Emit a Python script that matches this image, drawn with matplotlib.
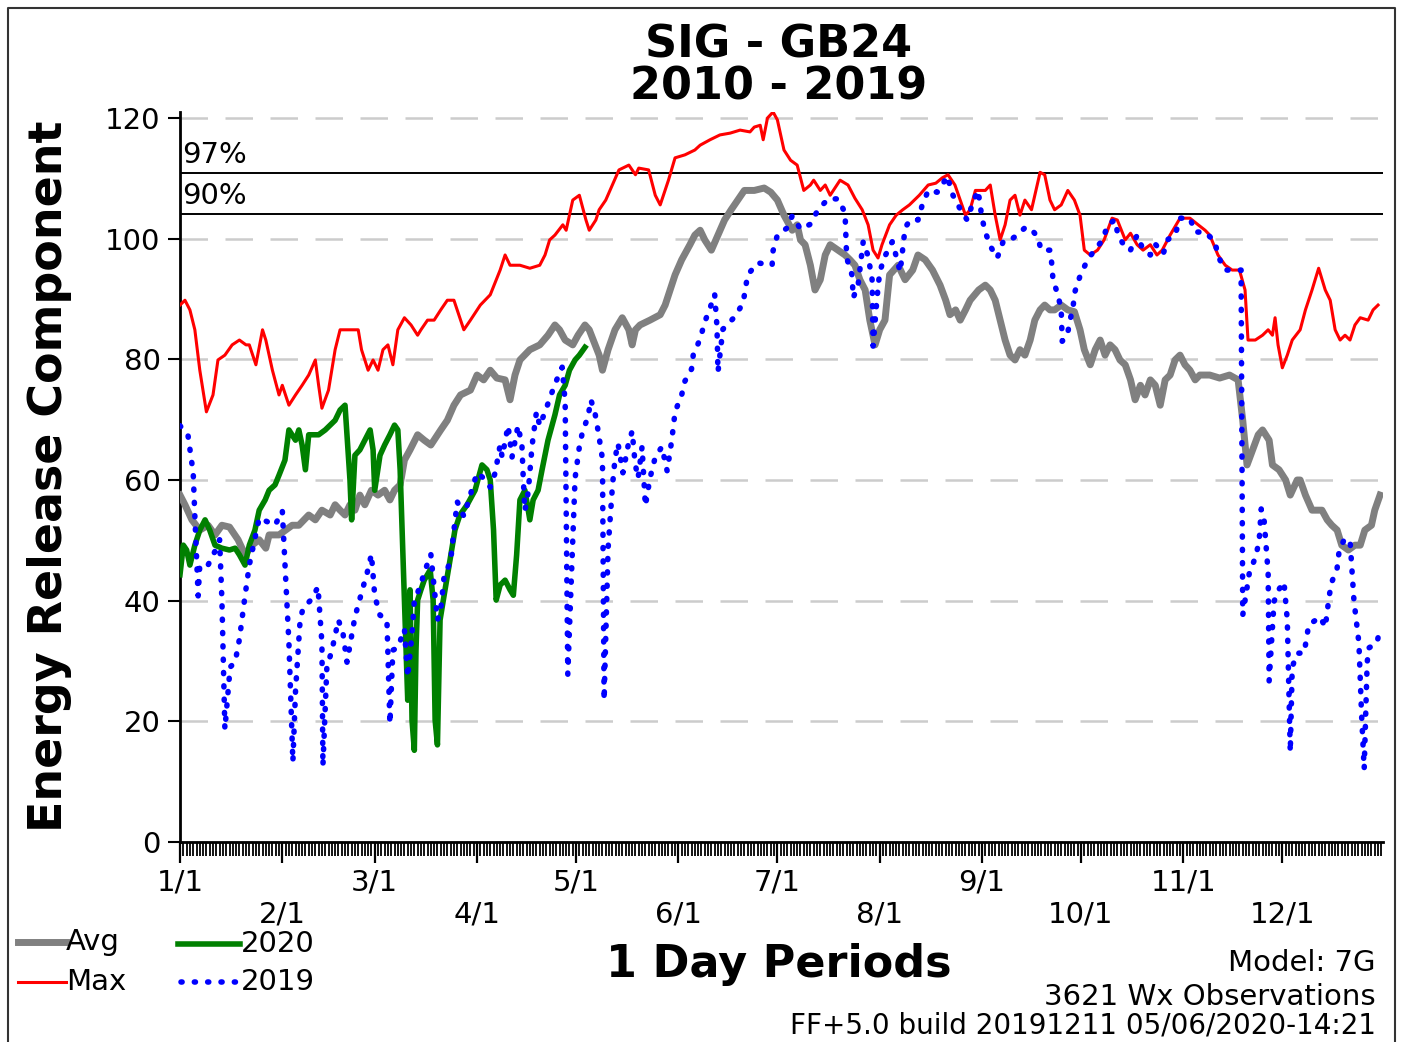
import numpy as np
import matplotlib
matplotlib.use('Agg')
import matplotlib.pyplot as plt

# ---- data (day of year, 0 = Jan 1; ERC values) ----
max_day = [0, 1.5, 3, 4.5, 6, 8, 10, 11.5, 13.6, 15.8,
           18, 20, 21, 23, 25, 26, 28, 30, 31, 33,
           35, 37, 39, 41, 42, 43, 45, 47, 48.5, 51.5,
           54, 55, 57, 58.5, 60, 61.5, 63, 64.5, 66, 68,
           70, 72, 73, 75, 77, 79, 81, 83, 85, 86,
           88, 91, 94, 97, 98.5, 100, 103, 106, 109, 110.6,
           112, 113.6, 116, 117, 119, 121, 123, 124, 126, 127,
           129, 131, 133, 136, 138, 139, 142, 144, 145.5, 148,
           150, 153, 156, 157.6, 160.6, 163.6, 166.7, 169.7, 172.7, 174,
           175.8, 176.7, 178, 179.7, 181, 183, 185, 187, 189, 191,
           192, 194, 195.5, 197, 200, 202.4, 204.5, 206.7, 208.5, 210,
           211.5, 212.7, 215, 217, 219, 221, 224, 226.7, 229, 231,
           232.7, 234.8, 236.4, 238, 239.4, 241, 244, 245.5, 247, 248.5,
           250, 251.5, 253, 254.5, 256, 258, 260.6, 262, 263.6, 265,
           267, 269, 271, 272.7, 274, 275.8, 278, 280, 282.4, 284,
           286.4, 288, 290, 291.8, 294, 296, 297.6, 300, 303, 306,
           308.5, 310.6, 312, 314.5, 316.7, 318.8, 321, 322.7, 323.6, 325.8,
           328, 329.7, 331, 331.8, 332.7, 334, 335.5, 337, 339.4, 341,
           343, 345, 347, 348.5, 350, 351.5, 353, 354.5, 356, 357.6,
           360, 361.5, 363]
max_erc = [89, 89.8, 88.2, 84.9, 78.2, 71.3, 74.1, 79.9, 80.7, 82.4,
           83.2, 82.4, 82.4, 79.1, 84.9, 83.2, 78.2, 74.1, 75.7, 72.4,
           74.1, 75.7, 77.4, 79.9, 75.7, 71.9, 74.9, 81.6, 84.9, 84.9,
           84.9, 81.6, 78.2, 79.9, 78.2, 81.6, 82.4, 79.1, 84.9, 86.9,
           85.7, 84, 84.9, 86.5, 86.5, 88.2, 89.8, 89.8, 86.5, 84.9,
           86.5, 89, 90.7, 94.8, 97.3, 95.6, 95.6, 95.1, 95.6, 97.3,
           99.8, 100.6, 102.3, 101.4, 106.4, 107.2, 103.1, 101.4, 103.1, 104.8,
           106.4, 108.9, 111.4, 112.2, 110.6, 111.7, 111.4, 107.2, 105.6, 109.7,
           113.4, 113.9, 114.7, 115.5, 116.4, 117.2, 117.5, 118, 117.7, 118.5,
           118.8, 116.4, 120, 121, 119.7, 114.7, 113, 112.2, 108, 108.9,
           109.7, 108, 108.9, 107.2, 109.7, 108.9, 106.7, 104.8, 102.3, 98.1,
           96.8, 99, 102.3, 103.9, 104.8, 105.6, 107.2, 108.9, 109.2, 110.1,
           110.6, 108.9, 106.4, 103.9, 104.8, 108, 108, 108.9, 103.9, 99.8,
           102.3, 106.4, 107.2, 103.9, 106.4, 104.8, 111, 110.6, 106.4, 104.8,
           105.6, 108, 106.4, 103.9, 98.1, 97.3, 98.1, 99.8, 103.4, 103.1,
           99.8, 100.9, 99, 98.1, 99, 97.3, 98.1, 100.6, 103.4, 103.4,
           102.3, 101.4, 100.6, 97.3, 95.6, 94.8, 94.8, 91.5, 83.2, 83.2,
           84, 84.9, 84, 86.9, 82.4, 78.6, 80.7, 83.2, 84.9, 88.2,
           91.5, 95.1, 91.5, 89.8, 84.9, 83.2, 84, 83.2, 85.7, 86.9,
           86.5, 88.2, 89]

avg_day = [0, 1.5, 3.6, 6, 8.5, 10.6, 12.7, 15, 17.6, 19.7,
           21.8, 24, 26, 27, 30, 32, 34, 36, 39, 41,
           43, 45.5, 47, 48.5, 50, 51.5, 53, 54.5, 56, 58,
           60, 62, 63.6, 65, 66.7, 68, 69.7, 72, 74, 76,
           79, 81, 83, 85, 88, 90, 92, 94, 96, 98.5,
           100, 101.5, 103, 106, 109, 111.5, 113.6, 115, 116.7, 119,
           120.6, 122.7, 124, 125.8, 127, 128, 129.7, 131.8, 134, 136,
           137, 138, 139.4, 142.4, 145.5, 147, 148.5, 150, 152, 154.5,
           156, 157.6, 159, 161, 163, 165, 167, 169, 171, 174,
           177, 179, 181, 183, 185.5, 187, 188, 189.4, 191, 192.4,
           194, 195.5, 197, 199.4, 201.5, 203, 204.5, 206, 207.6, 209,
           210.6, 212, 213.6, 215, 217.6, 219.7, 222, 223.6, 225.8, 228,
           230.3, 232, 233.3, 235, 236.4, 238, 239.4, 242, 244, 245.5,
           247, 248.5, 250, 251.5, 253, 254.5, 256, 257.6, 259, 260.6,
           262, 263.6, 265, 267, 269, 271, 272.7, 274, 275.8, 277.3,
           278.8, 280.3, 281.8, 283.3, 284.8, 286.4, 288, 289.4, 291, 292.4,
           294, 295.5, 297, 298.5, 300, 301.5, 303, 304.5, 306, 307.6,
           309, 312, 315, 318, 320.6, 322, 323.3, 325, 326.7, 328,
           330, 331, 333, 335, 336.4, 338.5, 339.4, 341, 343, 345,
           346, 347.6, 349, 350.6, 352, 354, 356, 357.6, 359, 361,
           362, 363.6]
avg_erc = [57.5, 55.9, 53.4, 51.7, 52.5, 50.9, 52.5, 52.2, 50.1, 47.6,
           49.2, 50.1, 48.7, 50.9, 50.9, 51.7, 52.5, 52.5, 54.2, 53.4,
           55, 54.2, 55.9, 55, 54.2, 55.9, 55, 57.5, 55.9, 58.3,
           57.5, 58.3, 56.7, 58.3, 59.2, 63.3, 65, 67.5, 66.6, 65.8,
           68.3, 69.9, 72.4, 74.1, 74.9, 77.4, 76.6, 78.2, 76.9, 76.6,
           73.3, 77.4, 79.9, 81.6, 82.4, 84, 85.7, 84.9, 83.2, 82.4,
           84, 85.7, 84.9, 82.4, 80.7, 78.2, 81.6, 84.9, 86.9, 84.9,
           82.4, 84.9, 85.7, 86.5, 87.4, 89, 91.5, 94, 96.5, 99,
           100.6, 101.4, 99.8, 98.1, 100.6, 103.1, 104.8, 106.4, 108, 108,
           108.4, 107.7, 106.4, 103.9, 101.4, 102.3, 99.8, 99, 95.6, 91.5,
           93.2, 97.3, 99, 98.1, 97.3, 96.5, 95.6, 93.2, 91.5, 86.5,
           82.4, 84.9, 86.5, 94, 95.6, 93.2, 94.8, 97.3, 96.5, 94.8,
           92.3, 89.8, 87.4, 88.2, 86.5, 88.2, 89.8, 91.5, 92.3, 91.5,
           89.8, 86.5, 83.2, 80.7, 79.9, 81.6, 80.7, 83.2, 86.5, 88.2,
           89, 88.2, 88.2, 89, 88.2, 87.9, 84.9, 81.6, 79.1, 81.6,
           83.2, 80.7, 82.4, 81.6, 79.9, 79.1, 76.6, 73.3, 75.7, 74.1,
           76.6, 75.7, 72.4, 76.6, 77.4, 79.9, 80.7, 79.1, 78.2, 76.6,
           77.4, 77.4, 76.9, 77.4, 76.6, 69.9, 62.5, 65, 67.5, 68.3,
           66.6, 62.5, 61.7, 60, 57.5, 60, 60, 57.5, 55, 55,
           55, 53.4, 52.5, 51.7, 49.2, 48.4, 49.2, 49.2, 51.7, 52.5,
           55, 57.5]

y2020_day = [0, 1, 2, 3, 4.5, 6, 7.6, 9, 10.6, 12.7,
             15, 16.7, 18, 19.7, 21, 22.7, 24, 25.8, 27, 28.8,
             30, 31.8, 33, 35, 36, 37, 38, 39, 42, 44,
             45.5, 47, 48.5, 50, 51.5, 52, 53, 54.5, 56, 57.6,
             58.5, 59, 60.6, 62, 63.6, 65, 66, 66.7, 67.6, 68.5,
             69, 69.7, 70.3, 71, 71.5, 72, 73, 74, 75.8, 76.7,
             77.3, 78, 78.8, 80.3, 81.8, 83.3, 84.8, 87, 89.4, 91.5,
             93, 94, 95, 95.8, 97, 98.5, 100, 101, 102, 103,
             104.5, 106, 107, 108.5, 109.7, 111.5, 113.6, 115, 116.7, 118,
             119.7, 121, 122.7]
y2020_erc = [44.3, 49.2, 48.4, 45.9, 49.2, 51.7, 53.4, 51.7, 49.2, 48.7,
             48.4, 48.7, 47.6, 45.9, 49.2, 51.7, 55, 56.7, 58.3, 59.2,
             60.8, 63.3, 68.3, 66.6, 68.3, 65.8, 61.7, 67.5, 67.5, 68.3,
             69.1, 69.9, 71.6, 72.4, 60, 53.4, 64.1, 65, 66.6, 68.3,
             65, 58.3, 64.1, 65.8, 67.5, 69.1, 68.3, 61.7, 46.7, 31.8,
             23.5, 41.8, 20.2, 15.2, 31.8, 40.1, 41.8, 43.4, 45.1, 40.1,
             20.2, 16.1, 36.8, 41.8, 46.7, 51.7, 54.2, 55.9, 58.3, 62.5,
             61.7, 60, 51.7, 40.1, 42.6, 43.4, 41.8, 40.9, 47.6, 56.7,
             58.3, 53.4, 56.7, 58.3, 61.7, 66.6, 70.8, 74.1, 75.7, 78.2,
             79.9, 80.7, 82]

y2019_day = [0, 2.4, 4, 4.5, 5.5, 6, 8.5, 10.6, 12, 12.7,
             13.6, 15.2, 16.7, 18, 19.7, 21, 24, 28.8, 31, 33,
             34.2, 35, 36.4, 37.3, 40, 41.8, 43, 43.3, 44.5, 46,
             48, 49.4, 50.6, 53, 55.5, 56.7, 58, 59, 60.6, 62.7,
             63.6, 64.5, 66, 68, 69, 70.3, 71, 72.7, 74, 76,
             77, 78, 79, 80, 82, 83, 84, 86, 90, 92,
             94, 95.5, 97, 97.6, 99.4, 100.6, 102.4, 103.6, 104, 104.5,
             105.5, 106.7, 108, 109, 110.6, 113.6, 115.8, 116.7, 117.5, 119.7,
             121, 122, 123.6, 124.5, 125.8, 126.7, 128, 128.5, 129.7, 131,
             131.8, 132.7, 134.2, 135.8, 137, 137.9, 138.8, 140, 141, 142.4,
             144, 146, 147.6, 149, 150, 152, 153, 155, 155.5, 157.6,
             159, 160.6, 162, 162.7, 163, 164.5, 168, 170.6, 172, 175,
             179.4, 179.7, 181, 184, 185.5, 188, 191, 193.3, 196.4, 199.4,
             201.5, 202, 203.6, 204, 205.5, 207, 208.5, 209.7, 210, 211.2,
             212, 213.6, 215.8, 217, 218.2, 219.7, 221.2, 223.6, 224.8, 226.7,
             229.4, 231, 232.4, 234.2, 236.4, 238.5, 240.3, 241.8, 243, 244,
             245.5, 247.6, 249.4, 251, 253.6, 256, 257.6, 259.7, 261, 263.6,
             264.2, 264.5, 266, 267, 267.3, 268.8, 269.7, 270.6, 271.2, 272.7,
             274.8, 276.7, 279.7, 281, 283.3, 284.2, 285.8, 287.9, 290, 291.5,
             294, 295.5, 297.9, 299.4, 301.5, 303, 306, 307.6, 310.6, 313.6,
             314.5, 316.7, 320.3, 321.5, 322, 324, 326, 327, 327.6, 328.5,
             329.7, 330, 331.5, 333, 334.5, 335.5, 336.4, 337, 338.5, 340.6,
             342, 345.5, 347, 348.2, 349, 350.6, 351.2, 352.7, 354.5, 355.7,
             357.2, 358, 358.8, 359.7, 360.3, 362.7, 363.6]
y2019_erc = [69, 67.5, 61.2, 54, 40.8, 45.9, 45.9, 48.2, 50.1, 40.1,
             18.7, 29, 29.8, 33.6, 40.8, 45.9, 53.7, 52.5, 54.9, 33,
             13.3, 25, 36.8, 38.8, 40.3, 42.3, 33, 12.6, 29, 31.7,
             36.8, 34.5, 29.8, 37.3, 42.3, 44.6, 47.7, 40.8, 37.6, 36.8,
             19.6, 31.8, 32.2, 35.3, 27.3, 34.5, 40, 42.3, 44.6, 47.7,
             42.3, 36.8, 38.5, 43.9, 46.6, 51.7, 56.4, 54, 61.2, 60.3,
             58.8, 61.2, 65.8, 63.8, 69, 63.8, 69, 65.8, 60.3, 54.9,
             58, 65.8, 71.3, 69, 71.3, 75.9, 78.7, 72.9, 27.8, 60.3,
             65.5, 68.1, 70.4, 73.3, 70.9, 68.1, 63.5, 23.5, 48.6, 58.8,
             63.5, 66.1, 61.2, 65.8, 68.1, 62.7, 60.3, 65.5, 55.7, 60.3,
             63.8, 65.5, 61.5, 66.6, 71.3, 74.1, 76.4, 78.4, 80.7, 83.4,
             86.2, 88.5, 90.8, 85.4, 77.9, 85, 87, 89.3, 94, 96,
             95.6, 98, 100.6, 101.8, 103.8, 101.6, 102.4, 104.8, 106.6, 106.6,
             104.3, 96.8, 94, 90.2, 92.5, 99.5, 97.1, 93.2, 82.2, 90.2,
             94.5, 97.1, 99.5, 97.1, 94.5, 101.8, 103.1, 103.1, 105.4, 108,
             107.7, 108.9, 110.4, 107.2, 104.9, 103.1, 106.1, 108, 103.4, 101.1,
             98.8, 96.8, 99.5, 99.5, 100.6, 101.8, 101.8, 100.4, 98.1, 98.1,
             95.6, 93.2, 90.7, 88.2, 83, 83.9, 86.5, 88.8, 91.3, 93.8,
             96.3, 97.8, 99.9, 102.3, 103.1, 100.6, 99.1, 98, 100.6, 98.6,
             97.3, 99.1, 97.5, 99.9, 100.6, 103.4, 103.4, 101.1, 101.1, 99.5,
             97.1, 94.8, 94.8, 94.8, 37.6, 44.6, 47.4, 50.1, 55.2, 53.2,
             44.6, 26.7, 39.9, 41.9, 43.1, 36.8, 14.9, 29, 31.3, 31.3,
             36, 37.3, 35.6, 40.8, 43.1, 45.4, 48.2, 50.1, 50.1, 40,
             33, 21.2, 12.1, 29.8, 32.2, 33, 35.6]

pct_levels = [110.9, 104.1]
pct_labels = ['97%', '90%']
month_start = [0, 31, 59, 90, 120, 151, 181, 212, 243, 273, 304, 334]
month_labels = ['1/1', '2/1', '3/1', '4/1', '5/1', '6/1',
                '7/1', '8/1', '9/1', '10/1', '11/1', '12/1']

W, H = 1401, 1042
fig = plt.figure(figsize=(W / 100, H / 100), dpi=100)
ax = fig.add_axes([180 / W, 1 - 842 / H, 1203 / W, 730 / H])

dots = (0, (0.2, 2.2))
ax.plot(avg_day, avg_erc, color='#808080', lw=5, zorder=3)
ax.plot(max_day, max_erc, color='#ff0000', lw=2.2, zorder=4)
ax.plot(y2020_day, y2020_erc, color='#008000', lw=4, zorder=5)
ax.plot(y2019_day, y2019_erc, color='#0000ff', lw=4, linestyle=dots,
        dash_capstyle='round', zorder=6)

for lev, lab in zip(pct_levels, pct_labels):
    ax.axhline(lev, color='black', lw=1.4, zorder=2)
    ax.text(0.5, lev + 0.6, lab, fontsize=21, ha='left', va='bottom')

ax.set_xlim(0, 364.5)
ax.set_ylim(0, 121)
ax.set_yticks(range(0, 121, 20))
ax.grid(axis='y', color='#cccccc', lw=1.8, linestyle=(0, (11, 7)))
ax.set_axisbelow(True)

# stagger month labels onto two rows
ax.set_xticks(month_start)
ax.set_xticklabels([lab if i % 2 == 0 else '\n' + lab for i, lab in enumerate(month_labels)])
ax.set_xticks(np.arange(0, 365), minor=True)
ax.tick_params(axis='x', which='major', length=15, width=1.6, pad=4, labelsize=21)
ax.tick_params(axis='x', which='minor', length=10, width=1.3)
ax.tick_params(axis='y', length=9, width=1.5, pad=5, labelsize=21)
for s in ['top', 'right']:
    ax.spines[s].set_visible(False)
for s in ['left', 'bottom']:
    ax.spines[s].set_linewidth(2)

# overlay in pixel coordinates for titles, legend and notes
ov = fig.add_axes([0, 0, 1, 1])
ov.set_xlim(0, W)
ov.set_ylim(H, 0)
ov.axis('off')
ov.plot([8, 8, 1395, 1395], [H + 5, 8, 8, H + 5], color='#333333', lw=1.5)

ov.text(779, 45, 'SIG - GB24', fontsize=32, fontweight='bold', ha='center', va='center')
ov.text(779, 87, '2010 - 2019', fontsize=32, fontweight='bold', ha='center', va='center')
ov.text(50, 476, 'Energy Release Component', fontsize=33, fontweight='bold',
        rotation=90, ha='center', va='center')
ov.text(779, 965, '1 Day Periods', fontsize=32, fontweight='bold', ha='center', va='center')

ov.plot([18, 66], [942, 942], color='#808080', lw=5)
ov.plot([18, 66], [982, 982], color='#ff0000', lw=2.2)
ov.plot([178, 240], [944, 944], color='#008000', lw=4)
ov.plot([181, 236], [982, 982], color='#0000ff', lw=4, linestyle=dots,
        dash_capstyle='round')
ov.text(66, 942, 'Avg', fontsize=21, va='center')
ov.text(66, 982, 'Max', fontsize=21, va='center')
ov.text(241, 944, '2020', fontsize=21, va='center')
ov.text(241, 982, '2019', fontsize=21, va='center')

ov.text(1376, 963, 'Model: 7G', fontsize=21, ha='right', va='center')
ov.text(1376, 997, '3621 Wx Observations', fontsize=21, ha='right', va='center')
ov.text(1376, 1025, 'FF+5.0 build 20191211 05/06/2020-14:21', fontsize=20,
        ha='right', va='center')

fig.savefig('out.png', dpi=100)
